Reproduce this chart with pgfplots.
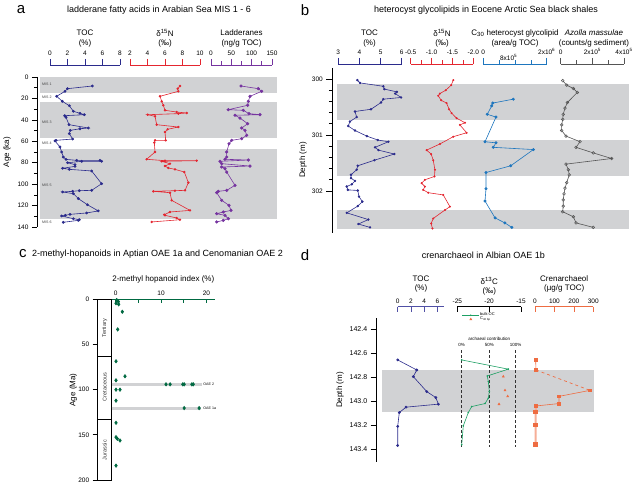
\documentclass[border=0pt]{standalone}
\usepackage{pgfplots}
\pgfplotsset{compat=1.18}
\usepackage{fontspec}
\setmainfont{Liberation Sans}
\newcommand\fs[1]{\fontsize{#1}{#1}\selectfont}
\definecolor{navy}{RGB}{43,43,140}
\definecolor{dnavy}{RGB}{80,80,165}
\definecolor{nred}{RGB}{228,38,48}
\definecolor{purp}{RGB}{118,52,160}
\definecolor{band}{RGB}{209,210,212}
\definecolor{gblue}{RGB}{30,118,190}
\definecolor{azg}{RGB}{85,85,85}
\definecolor{hgreen}{RGB}{0,105,65}
\definecolor{cgreen}{RGB}{30,160,100}
\definecolor{corange}{RGB}{238,108,66}
\pgfplotsset{
  base/.style={scale only axis, clip=false, scaled ticks=false,
    /pgf/number format/assume math mode=true,
    tick label style={font=\fs{6.5}}, every axis plot/.append style={line width=0.6pt}},
  colup/.style={base, y dir=reverse, axis x line*=top, axis y line=none,
    tick align=outside, major tick length=6pt, minor tick length=3.5pt,
    axis line style={draw=#1, line width=0.7pt}, tick style={draw=#1, line width=0.7pt}},
  coldown/.style={base, y dir=reverse, axis x line*=top, axis y line=none,
    tick align=inside, major tick length=5pt, minor tick length=3pt,
    axis line style={draw=#1, line width=0.7pt}, tick style={draw=#1, line width=0.7pt}},
  mainax/.style={base, y dir=reverse, axis x line=none, axis y line*=left,
    tick align=outside, major tick length=5pt, minor tick length=3pt,
    axis line style={line width=0.7pt}, tick style={line width=0.7pt, black}},
}
\begin{document}
\begin{tikzpicture}
\useasboundingbox (0,0) rectangle (633pt,485pt);
%================ PANEL A =================
\begin{axis}[mainax, at={(37pt,408pt)}, anchor=north west, width=240pt, height=150pt,
  xmin=0, xmax=240, ymin=0, ymax=140, ytick={0,20,...,140}, minor y tick num=1]
\addplot[fill=band, draw=none] coordinates {(3,0) (240,0) (240,15) (3,15)} -- cycle;
\addplot[fill=band, draw=none] coordinates {(3,23.3) (240,23.3) (240,56.7) (3,56.7)} -- cycle;
\addplot[fill=band, draw=none] coordinates {(3,66.9) (240,66.9) (240,132.3) (3,132.3)} -- cycle;
\begin{scope}[font=\fs{3.6}, anchor=west, inner sep=0pt, text=black!75]
\node at (axis cs:5,7) {MIS 1};
\node at (axis cs:5,19) {MIS 2};
\node at (axis cs:5,42) {MIS 3};
\node at (axis cs:5,62) {MIS 4};
\node at (axis cs:5,101) {MIS 5};
\node at (axis cs:5,136) {MIS 6};
\end{scope}
\end{axis}
\begin{axis}[colup=navy, at={(50pt,420pt)}, anchor=north west, width=70pt, height=162pt,
  xmin=0, xmax=8, ymin=-11.2, ymax=140, xtick={0,2,4,6,8}]
\addplot[navy, mark=*, mark size=1.1pt] coordinates {(4.84,8.4) (2.0,10.9) (1.71,13.4) (0.76,18.0) (1.41,22.7) (2.21,26.8) (2.67,32.0) (3.43,33.9) (3.92,35.2) (1.68,36.1) (1.83,37.6) (2.17,44.5) (4.38,47.6) (3.43,48.3) (2.32,49.8) (2.21,52.9) (2.59,57.9) (0.69,59.1) (0.57,59.7) (1.14,65.3) (1.33,70) (1.52,74.7) (1.83,76.9) (3.05,77.8) (5.71,77.8) (5.9,78.7) (3.62,78.7) (2.02,80) (2.86,81.8) (2.86,83.4) (1.45,85.2) (2.21,86.2) (4.76,87.7) (5.9,99.6) (4.76,105.8) (3.35,106.1) (2.59,106.7) (1.45,107.3) (2.67,108.9) (3.24,113.5) (4.27,119.2) (5.52,125) (4.19,126.9) (2.29,128.2) (1.75,129.1) (1.33,129.7) (2.67,132.3) (3.35,133.2) (3.24,133.8) (1.52,135.6)};
\end{axis}
\begin{axis}[colup=nred, at={(130pt,420pt)}, anchor=north west, width=70pt, height=162pt,
  xmin=2, xmax=10, ymin=-11.2, ymax=140, xtick={2,4,6,8,10}]
\addplot[nred, mark=*, mark size=0.9pt] coordinates {(7.71,8.4) (7.45,10.9) (7.52,13.4) (5.43,18.0) (5.62,22.7) (5.81,26.4) (6.0,31.1) (7.33,32.7) (8.48,33.6) (7.52,34.2) (4.02,35.2) (4.86,36.7) (5.05,44.5) (7.52,46.7) (6.3,48.8) (6.0,51.3) (6.08,59.1) (4.86,59.1) (4.78,61.3) (4.86,70) (3.9,76.8) (6.0,78.1) (9.62,78.1) (5.62,78.7) (6.57,80.9) (6.0,83.1) (6.38,84.9) (7.14,86.2) (8.21,88.7) (8.67,98.6) (8.29,105.8) (7.14,106.1) (4.67,106.7) (6.57,108) (6.76,115.1) (8.86,124.5) (6.57,126) (5.92,128.5) (6.0,129.1) (7.33,131.6) (7.71,133.2) (4.48,135.3)};
\end{axis}
\begin{axis}[colup=purp, at={(211pt,420pt)}, anchor=north west, width=61pt, height=162pt,
  xmin=0, xmax=150, ymin=-11.2, ymax=140, xtick={0,50,100,150}, minor x tick num=1]
\addplot[purp, mark=*, mark size=1.3pt] coordinates {(73.8,8.4) (116.3,10.9) (124.6,13.4) (95.9,18) (91.8,22.7) (90.2,26.4) (42.6,30.5) (79.5,31.1) (93.4,34.2) (120.5,35.2) (59,35.7) (71.3,38.3) (90.2,43.6) (75.5,47.6) (83.6,49.8) (87.8,54.4) (75.5,57.6) (50.9,59.1) (44.3,62.3) (38.6,70) (38.6,74.7) (34.4,76.8) (91.8,77.5) (22.1,78.7) (26.3,80.9) (95.9,83.1) (26.3,84) (34.4,85.6) (38.6,88.7) (59,101.1) (38.6,105.8) (18,106.7) (14,108) (26.3,115.1) (44.3,119.8) (49.2,124.5) (30.2,126) (14,127.6) (34.4,129.1) (42.6,132.3) (30.2,133.8) (14,135.3)};
\end{axis}
%================ PANEL B =================
\begin{axis}[mainax, at={(332.3pt,417pt)}, anchor=north west, width=296.7pt, height=165pt,
  xmin=0, xmax=296.7, ymin=299.804, ymax=302.75, ytick={300,301,302}, minor y tick num=4,
  major tick length=6pt, minor tick length=3.5pt]
\addplot[fill=band, draw=none] coordinates {(4.4,300.09) (296.7,300.09) (296.7,300.73) (4.4,300.73)} -- cycle;
\addplot[fill=band, draw=none] coordinates {(4.4,301.09) (296.7,301.09) (296.7,301.74) (4.4,301.74)} -- cycle;
\addplot[fill=band, draw=none] coordinates {(4.4,302.34) (296.7,302.34) (296.7,302.67) (4.4,302.67)} -- cycle;
\end{axis}
\begin{axis}[colup=navy, at={(338.3pt,421pt)}, anchor=north west, width=63.4pt, height=169pt,
  xmin=3, xmax=6, ymin=299.732, ymax=302.75, xtick={3,4,5,6}]
\addplot[navy, mark=*, mark size=0.9pt] coordinates {(3.9,300.02) (4.03,300.07) (5.13,300.13) (5.18,300.18) (5.77,300.23) (5.69,300.26) (5.97,300.33) (5.13,300.36) (5.02,300.42) (4.55,300.54) (3.79,300.58) (3.87,300.68) (3.55,300.76) (3.47,300.84) (3.79,300.92) (4.35,301.02) (4.87,301.09) (5.37,301.12) (4.74,301.22) (4.9,301.27) (5.65,301.34) (4.71,301.45) (3.92,301.55) (3.87,301.62) (3.6,301.71) (3.6,301.77) (3.79,301.82) (3.64,301.88) (3.4,301.92) (3.45,301.98) (3.92,301.99) (3.98,302.1) (4.14,302.19) (3.92,302.27) (3.4,302.39) (4.42,302.51) (3.95,302.59) (4.5,302.65)};
\end{axis}
\begin{axis}[colup=nred, at={(410.7pt,421pt)}, anchor=north west, width=62.6pt, height=169pt,
  x dir=reverse, xmin=-2, xmax=-0.5, ymin=299.732, ymax=302.75,
  xtick={-2,-1.5,-1,-0.5}, xticklabels={-2.0,-1.5,-1.0,-0.5}, minor x tick num=1]
\addplot[nred, mark=*, mark size=0.7pt] coordinates {(-1.52,300.02) (-1.47,300.11) (-1.34,300.2) (-1.2,300.26) (-1.16,300.3) (-1.23,300.38) (-1.36,300.43) (-1.42,300.54) (-1.48,300.61) (-1.6,300.7) (-1.8,300.78) (-1.68,300.82) (-1.84,300.96) (-1.52,301.03) (-1.2,301.16) (-0.88,301.27) (-0.99,301.34) (-1.04,301.45) (-1.08,301.62) (-1.07,301.74) (-0.84,301.8) (-0.76,301.86) (-0.84,301.92) (-0.8,301.98) (-0.92,302.03) (-1.28,302.07) (-1.44,302.28) (-1.32,302.34) (-1.04,302.49) (-0.99,302.58) (-1.02,302.67)};
\end{axis}
\begin{axis}[colup=gblue, at={(483.3pt,421pt)}, anchor=north west, width=63.4pt, height=169pt,
  xmin=0, xmax=2, ymin=299.732, ymax=302.75,
  xtick={0,2}, xticklabels={0,2x10\textsuperscript{6}}, minor xtick={0.5,1,1.5},
  extra x ticks={0.8}, extra x tick labels={8x10\textsuperscript{5}}, extra x tick style={major tick length=0pt}]
\addplot[gblue, mark=*, mark size=1.2pt] coordinates {(0.946,300.36) (0.297,300.43) (0.265,300.48) (0.126,300.63) (0.4,300.68) (0.054,301.12) (0.4,301.14) (0.315,301.22) (1.58,301.26) (0.864,301.55) (0.085,301.67) (0.085,301.96) (0.054,302.18) (0.37,302.48) (0.68,302.57) (0.9,302.65)};
\end{axis}
\begin{axis}[colup=azg, at={(560.7pt,421pt)}, anchor=north west, width=63.3pt, height=169pt,
  xmin=0, xmax=4, ymin=299.732, ymax=302.75,
  xtick={0,2,4}, xticklabels={0,2x10\textsuperscript{5},4x10\textsuperscript{5}}, minor xtick={1,3}]
\addplot[azg, mark=o, mark size=1.4pt, mark options={fill=white, line width=0.5pt}] coordinates {(0.126,300.03) (0.38,300.11) (0.8,300.17) (1.05,300.24) (0.42,300.42) (0.27,300.52) (0.16,300.63) (0.126,300.72) (0.063,300.82) (0.063,300.92) (0.335,301.02) (1.22,301.12) (0.97,301.22) (2.06,301.32) (3.22,301.42) (0.335,301.52) (0.48,301.62) (0.54,301.71) (0.38,301.85) (0.27,301.95) (0.21,302.05) (0.16,302.16) (0.16,302.27) (0.126,302.37) (0.8,302.46) (0.97,302.57) (2.06,302.65)};
\end{axis}
%================ PANEL C =================
\begin{axis}[mainax, at={(97.7pt,185.7pt)}, anchor=north west, width=14pt, height=180.7pt,
  xmin=0, xmax=1, ymin=0, ymax=200, ytick={0,50,...,200}]
\addplot[black, line width=0.6pt] coordinates {(0,0) (1,0) (1,62.7) (0,62.7)} -- cycle;
\addplot[black, line width=0.6pt] coordinates {(0,62.7) (1,62.7) (1,133) (0,133)} -- cycle;
\addplot[black, line width=0.6pt] coordinates {(0,133) (1,133) (1,200) (0,200)} -- cycle;
\node[rotate=90, font=\fs{5.5}, inner sep=0pt, text=black!80] at (axis cs:0.5,32) {Tertiary};
\node[rotate=90, font=\fs{5.5}, inner sep=0pt, text=black!80] at (axis cs:0.5,97) {Cretaceous};
\node[rotate=90, font=\fs{5.5}, inner sep=0pt, text=black!80] at (axis cs:0.5,167) {Jurassic};
\end{axis}
\begin{axis}[coldown=hgreen, at={(111.7pt,185.7pt)}, anchor=north west, width=103.3pt, height=180.7pt,
  xmin=-0.88, xmax=21.9, ymin=0, ymax=200, xtick={0,10,20}, minor xtick={5,15},
  major tick length=4pt, minor tick length=4pt]
\addplot[band, line width=3pt, forget plot] coordinates {(-0.88,94.1) (19,94.1)};
\addplot[band, line width=3pt, forget plot] coordinates {(-0.88,120.4) (18.8,120.4)};
\node[font=\fs{3.6}, anchor=west, inner sep=0pt] at (axis cs:19.3,94.1) {OAE 2};
\node[font=\fs{3.6}, anchor=west, inner sep=0pt] at (axis cs:19.3,120.4) {OAE 1a};
\addplot[only marks, hgreen, mark=diamond*, mark size=1.7pt] coordinates {(0.22,0.8) (0.59,2.6) (0.07,4.4) (0.66,5.6) (1.46,13.8) (0.44,33.3) (0.07,68.6) (2.05,85.2) (0.07,89.7) (0.07,100) (0.95,100) (0.07,112.2) (11.1,94.1) (12,94.1) (14.8,94.1) (15.1,94.1) (16.8,94.1) (17.1,94.1) (15.1,120.4) (18.4,120.4) (0.07,136.7) (0.07,152.6) (0.37,154.4) (0.95,156.3) (0.07,184.1)};
\end{axis}
%================ PANEL D =================
\begin{axis}[mainax, at={(376.7pt,166.7pt)}, anchor=north west, width=217.3pt, height=144pt,
  xmin=0, xmax=217.3, ymin=142.31, ymax=143.51, ytick={142.4,142.6,...,143.41},
  yticklabel style={/pgf/number format/.cd, fixed, fixed zerofill, precision=1},
  major tick length=6pt, tick label style={font=\fs{7}}]
\addplot[fill=band, draw=none] coordinates {(5.6,142.74) (217.3,142.74) (217.3,143.09) (5.6,143.09)} -- cycle;
\end{axis}
\begin{axis}[coldown=dnavy, at={(397.7pt,178.3pt)}, anchor=north west, width=46.3pt, height=155.6pt,
  xmin=0, xmax=7, ymin=142.212, ymax=143.51, xtick={0,2,4,6}]
\addplot[navy, mark=*, mark size=1.1pt] coordinates {(0,142.656) (2.88,142.74) (2.36,142.795) (4.39,142.92) (5.76,142.97) (6.15,143.025) (1.26,143.05) (0.24,143.095) (0,143.21) (0,143.37)};
\end{axis}
\begin{axis}[coldown=black, at={(457.3pt,178.3pt)}, anchor=north west, width=63.7pt, height=155.6pt,
  xmin=-25, xmax=-15, ymin=142.212, ymax=143.51, xtick={-25,-20,-15},
  legend style={at={(axis cs:-24.3,142.3)}, anchor=west, draw=none, fill=none,
    font=\fs{4}, inner sep=0pt, row sep=-1.5pt, nodes={inner sep=0.6pt}},
  legend cell align=left]
\addplot[black!80, densely dashed, line width=0.5pt, forget plot] coordinates {(-24.31,142.575) (-24.31,143.385)};
\addplot[black!80, densely dashed, line width=0.5pt, forget plot] coordinates {(-19.98,142.575) (-19.98,143.385)};
\addplot[black!80, densely dashed, line width=0.5pt, forget plot] coordinates {(-15.84,142.575) (-15.84,143.385)};
\addplot[cgreen, mark=*, mark size=0.5pt] coordinates {(-24.31,142.656) (-17.0,142.733) (-20.29,142.79) (-20.13,142.837) (-19.98,142.92) (-20.13,142.975) (-20.65,143.02) (-22.74,143.045) (-23.27,143.095) (-24.06,143.206) (-24.31,143.364)};
\addlegendentry{bulk OC}
\addplot[only marks, corange, mark=triangle*, mark size=1.1pt] coordinates {(-17.78,142.795) (-17.51,142.91) (-17.09,142.96) (-18.45,143.025)};
\addlegendentry{C\textsubscript{40 bp}}
\node[font=\fs{4.5}] at (axis cs:-19.98,142.48) {archaeal contribution};
\node[font=\fs{4.5}] at (axis cs:-24.31,142.53) {0\%};
\node[font=\fs{4.5}] at (axis cs:-19.98,142.53) {50\%};
\node[font=\fs{4.5}] at (axis cs:-15.84,142.53) {100\%};
\end{axis}
\begin{axis}[coldown=corange, at={(535pt,178.3pt)}, anchor=north west, width=58.3pt, height=155.6pt,
  xmin=0, xmax=300, ymin=142.212, ymax=143.51, xtick={0,100,200,300}]
\addplot[corange, mark=square*, mark size=1.3pt] coordinates {(3.4,142.656) (5,142.74)};
\addplot[corange, dashed, line width=0.7pt] coordinates {(5,142.74) (283,142.91)};
\addplot[corange, mark=square*, mark size=1.3pt] coordinates {(283,142.91) (123.5,142.96) (123.5,143.02) (5,143.04)};
\addplot[corange!55, line width=2pt, mark=square*, mark size=1.3pt, mark options={corange}] coordinates {(5,143.04) (3.4,143.09) (3.4,143.2) (3.4,143.36)};
\end{axis}
%================ TEXT =================
\begin{scope}[inner sep=0pt]
\node[font=\fs{15}] at (21pt,475pt) {a};
\node[font=\fs{9}] at (159pt,475pt) {ladderane fatty acids in Arabian Sea MIS 1 - 6};
\node[font=\fs{8}] at (85pt,452pt) {TOC};
\node[font=\fs{8}] at (85pt,442pt) {(\%)};
\node[font=\fs{8}] at (165pt,452pt) {δ\textsuperscript{15}N};
\node[font=\fs{8}] at (165pt,442pt) {(‰)};
\node[font=\fs{8}] at (241.5pt,452pt) {Ladderanes};
\node[font=\fs{8}] at (241.5pt,442pt) {(ng/g TOC)};
\node[font=\fs{8}, rotate=90] at (7pt,333pt) {Age (ka)};
\node[font=\fs{15}] at (305pt,475pt) {b};
\node[font=\fs{9}] at (486pt,475pt) {heterocyst glycolipids in Eocene Arctic Sea black shales};
\node[font=\fs{8}] at (369.5pt,452pt) {TOC};
\node[font=\fs{8}] at (369.5pt,442pt) {(\%)};
\node[font=\fs{8}] at (442pt,452pt) {δ\textsuperscript{15}N};
\node[font=\fs{8}] at (442pt,442pt) {(‰)};
\node[font=\fs{8}] at (515pt,452pt) {C\textsubscript{30} heterocyst glycolipid};
\node[font=\fs{8}] at (515pt,442pt) {(area/g TOC)};
\node[font=\fs{8}] at (594pt,452pt) {\itshape Azolla massulae};
\node[font=\fs{8}] at (594pt,442pt) {(counts/g sediment)};
\node[font=\fs{8}, rotate=90] at (303pt,325pt) {Depth (m)};
\node[font=\fs{15}] at (23pt,231pt) {c};
\node[font=\fs{9}] at (157.5pt,231pt) {2-methyl-hopanoids in Aptian OAE 1a and Cenomanian OAE 2};
\node[font=\fs{8}] at (163.3pt,206pt) {2-methyl hopanoid index (\%)};
\node[font=\fs{8}, rotate=90] at (73.3pt,95pt) {Age (Ma)};
\node[font=\fs{15}] at (305pt,230pt) {d};
\node[font=\fs{9}] at (483.3pt,230pt) {crenarchaeol in Albian OAE 1b};
\node[font=\fs{8}] at (421pt,206.7pt) {TOC};
\node[font=\fs{8}] at (421pt,196.7pt) {(\%)};
\node[font=\fs{8}] at (489.3pt,204.3pt) {δ\textsuperscript{13}C};
\node[font=\fs{8}] at (489.3pt,193.3pt) {(‰)};
\node[font=\fs{8}] at (564.2pt,206.7pt) {Crenarchaeol};
\node[font=\fs{8}] at (564.2pt,196.7pt) {(µg/g TOC)};
\node[font=\fs{8}, rotate=90] at (340pt,95pt) {Depth (m)};
\end{scope}
\end{tikzpicture}
\end{document}
